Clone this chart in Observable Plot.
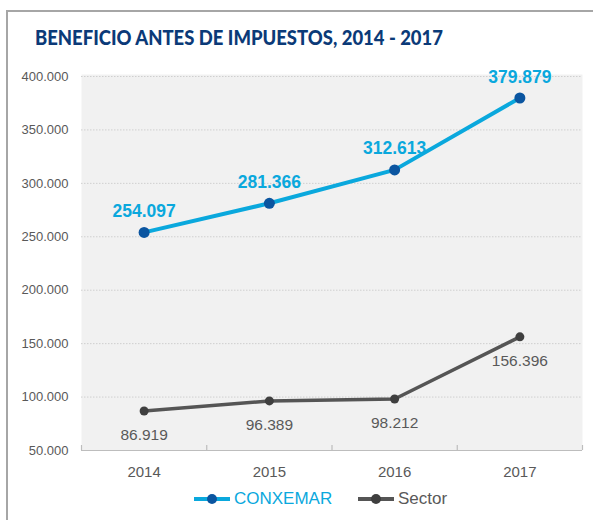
<!DOCTYPE html>
<html>
<head>
<meta charset="utf-8">
<script src="https://cdn.jsdelivr.net/npm/d3@7"></script>
<script src="https://cdn.jsdelivr.net/npm/@observablehq/plot@0.6"></script>
<style>
  html, body { margin: 0; padding: 0; background: #fff; }
  #wrap { position: relative; width: 593px; height: 520px; overflow: hidden; font-family: "Liberation Sans", Arial, sans-serif; }
  #frame { position: absolute; left: 6px; top: 10px; width: 700px; height: 700px; border-left: 2px solid #a6a6a6; border-top: 2px solid #a6a6a6; }
  #title { position: absolute; left: 35px; top: 26px; font-family: Lato, "Liberation Sans", sans-serif; font-weight: 900; font-size: 21px; color: #0b3a78; white-space: nowrap; transform-origin: 0 0; line-height: 1; }
  #chart { position: absolute; left: 0; top: 0; }
  #legend { position: absolute; top: 489px; left: 0; width: 593px; height: 22px; }
  .item { position: absolute; display: flex; align-items: center; font-size: 17px; }
</style>
</head>
<body>
<div id="wrap">
  <div id="frame"></div>
  <div id="title">BENEFICIO ANTES DE IMPUESTOS, 2014 - 2017</div>
  <div id="chart"></div>
  <div id="legend"></div>
</div>
<script>
const years = [2014, 2015, 2016, 2017];
const conxemar = [254097, 281366, 312613, 379879];
const sector = [86919, 96389, 98212, 156396];
const yTicks = [50000, 100000, 150000, 200000, 250000, 300000, 350000, 400000];
const seriesNames = ["CONXEMAR", "Sector"];

const fmt = v => d3.format(",")(v).replace(/,/g, ".");
const conxData = years.map((y, i) => ({year: y, value: conxemar[i]}));
const sectorData = years.map((y, i) => ({year: y, value: sector[i]}));
const bounds = [years[0] - 0.5, ...years.map(y => y + 0.5)];

const blue = "#0aa8dd", darkBlue = "#0b55a0", gray = "#595959", darkGray = "#3f3f3f";

const plot = Plot.plot({
  width: 593,
  height: 520,
  marginLeft: 81,
  marginRight: 11,
  marginTop: 76,
  marginBottom: 70,
  style: {fontFamily: "'Liberation Sans', Arial, sans-serif", background: "transparent"},
  x: {type: "linear", domain: [years[0] - 0.5, years[years.length - 1] + 0.5], label: null},
  y: {domain: [50000, 400000], label: null},
  marks: [
    Plot.frame({fill: "#f1f1f1", stroke: "none", insetTop: -2}),
    Plot.gridY(yTicks.filter(t => t > 50000), {stroke: "#cfcfcf", strokeOpacity: 1, strokeDasharray: "1.5,1.5"}),
    Plot.ruleY([50000], {stroke: "#bdbdbd", strokeWidth: 1.2}),
    Plot.ruleX(bounds, {y1: 50000, y2: 54700, stroke: "#bdbdbd", strokeWidth: 1.2}),
    Plot.axisY(yTicks, {tickSize: 0, tickPadding: 13, tickFormat: fmt, fontSize: 13, fill: gray, label: null}),
    Plot.axisX(years, {tickSize: 0, tickPadding: 16, tickFormat: d => String(d), fontSize: 15, fill: gray, label: null}),
    Plot.line(sectorData, {x: "year", y: "value", stroke: "#555555", strokeWidth: 3.5}),
    Plot.dot(sectorData, {x: "year", y: "value", r: 4.5, fill: darkGray}),
    Plot.text(sectorData, {x: "year", y: "value", text: d => fmt(d.value), dy: 24, fill: gray, fontSize: 15.5}),
    Plot.line(conxData, {x: "year", y: "value", stroke: blue, strokeWidth: 4}),
    Plot.dot(conxData, {x: "year", y: "value", r: 5.5, fill: darkBlue}),
    Plot.text(conxData, {x: "year", y: "value", text: d => fmt(d.value), dy: -21, fill: blue, fontSize: 17.5, fontWeight: "bold", letterSpacing: "0.5px"})
  ]
});
document.getElementById("chart").appendChild(plot);

// legend
const legend = document.getElementById("legend");
const items = [
  {name: seriesNames[0], line: blue, dot: darkBlue, color: blue, left: 194},
  {name: seriesNames[1], line: "#555555", dot: darkGray, color: gray, left: 358}
];
for (const it of items) {
  const d = document.createElement("div");
  d.className = "item";
  d.style.left = it.left + "px";
  d.style.color = it.color;
  d.innerHTML = `<svg width="38" height="20" style="margin-right:2px"><line x1="0" x2="36" y1="10" y2="10" stroke="${it.line}" stroke-width="4"/><circle cx="18" cy="10" r="5" fill="${it.dot}"/></svg><span>${it.name}</span>`;
  legend.appendChild(d);
}

// fit title width
const title = document.getElementById("title");
const w = title.getBoundingClientRect().width;
title.style.transform = `scaleX(${408 / w})`;
</script>
</body>
</html>
